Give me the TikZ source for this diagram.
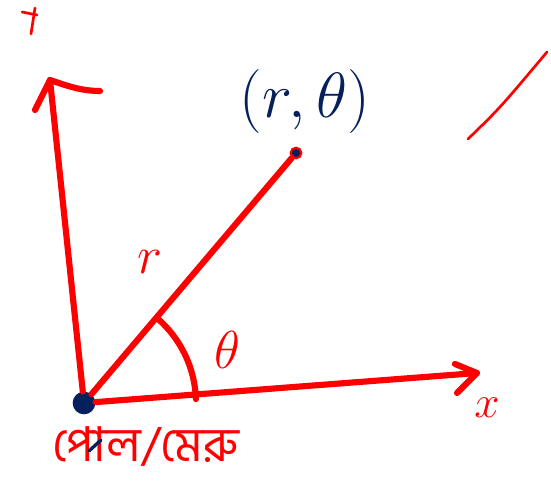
\RequirePackage{fix-cm}
\documentclass[tikz,border=0pt]{standalone}
\usepackage{fontspec}
\newfontfamily\bnfont[Script=Bengali]{Hind Siliguri}
\definecolor{pen}{RGB}{255,0,0}
\definecolor{ink}{RGB}{6,32,94}
\begin{document}
\begin{tikzpicture}[x=0.75pt,y=-0.75pt,
  stroke/.style={draw=pen,line width=4.6pt,line cap=round,line join=round},
  thin stroke/.style={draw=pen,line width=2pt,line cap=round},
  redlabel/.style={text=pen,inner sep=0pt}]
\useasboundingbox (0,0) rectangle (551,491);
% nodes
\node[circle,fill=ink,minimum size=17pt,inner sep=0pt] (O) at (84,403) {};
\node[circle,fill=ink,draw=pen,line width=1.6pt,minimum size=8pt,inner sep=0pt] (P) at (296,153) {};
\coordinate (Ytip) at (50,80);
\coordinate (Xtip) at (477,373);
% axes
\draw[stroke] (O) -- (Ytip);
\draw[stroke] (35,110) -- (Ytip) .. controls (65,85) and (80,91) .. (100,91);
\draw[stroke] (O) -- (Xtip);
\draw[stroke] (455,364) -- (Xtip) -- (457,393);
% radius
\draw[stroke] (O) -- (P);
% angle arc
\draw[stroke] (O.center) ++(-49:112) arc[start angle=-49,end angle=-2,radius=112];
% labels
\node[redlabel,font=\fontsize{40}{44}\selectfont] (rl) at (150,262) {$r$};
\node[redlabel,font=\fontsize{40}{44}\selectfont] (tl) at (227,350) {$\theta$};
\node[text=ink,inner sep=0pt,font=\fontsize{48}{54}\selectfont] (pl) at (305,102) {$(r,\theta)$};
\node[redlabel,font=\fontsize{34}{38}\selectfont] (xl) at (487,408) {$x$};
\node[redlabel,font=\bnfont\fontsize{36}{42}\selectfont] (bl) at (146,447) {পোল/মেরু};
% marks
\draw[thin stroke] (22,12) -- (37,15);
\draw[thin stroke] (35,8) -- (31,34);
\draw[draw=ink,line width=2.5pt,line cap=round] (89,451) -- (101,440);
\draw[thin stroke] (468,139) .. controls (500,108) .. (547,52);
\end{tikzpicture}
\end{document}
